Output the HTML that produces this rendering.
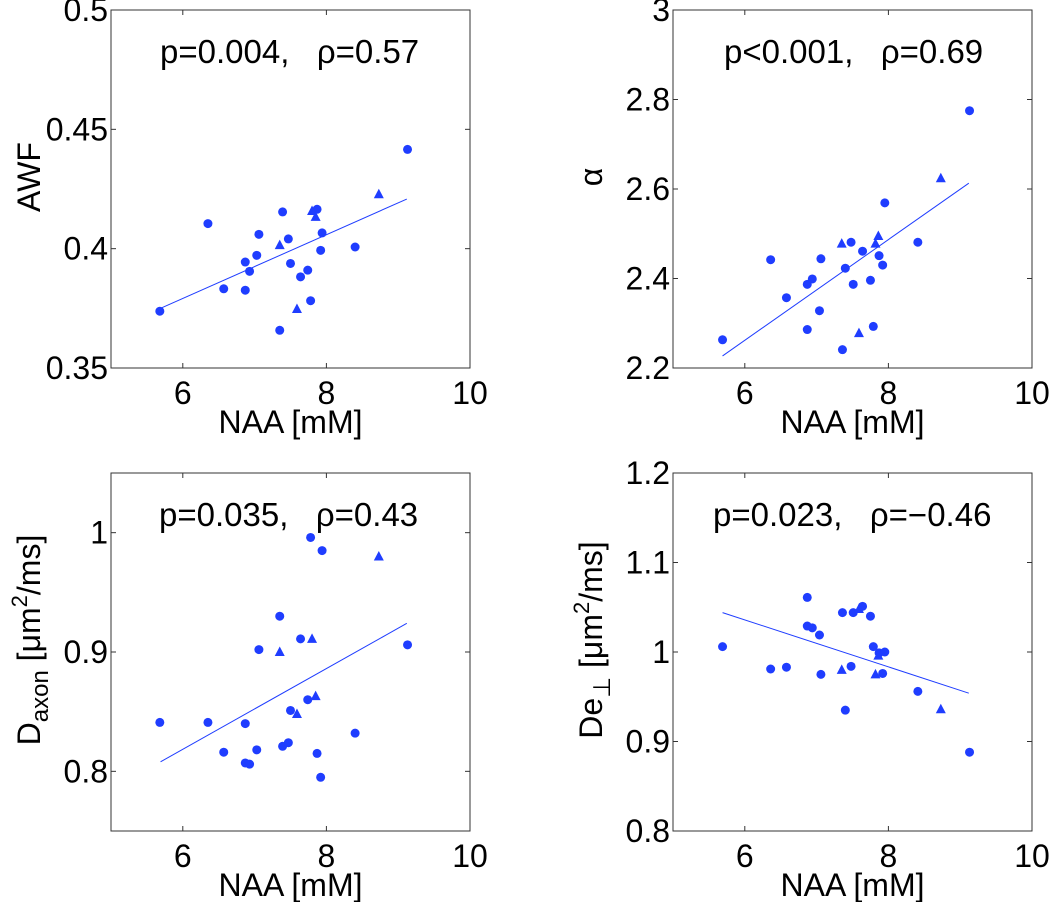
<!DOCTYPE html>
<html><head><meta charset="utf-8"><style>
html,body{margin:0;padding:0;background:#fff;}
svg{display:block;font-family:"Liberation Sans",Arial,sans-serif;}
</style></head><body>
<svg id="fig" width="1050" height="902" viewBox="0 0 1050 902" xmlns="http://www.w3.org/2000/svg"></svg>
<script>
// Shared NAA x values (circles then triangles)
const naaCircle = [5.68,6.35,6.57,6.87,6.87,6.93,7.03,7.06,7.39,7.35,7.47,7.50,7.64,7.74,7.78,7.87,7.94,7.92,8.40,9.13];
const naaTri = [7.35,7.59,7.80,7.85,8.73];
const naaTri2 = [7.35,7.59,7.82,7.86,8.73];

const awfCircle = [0.3738,0.4105,0.3832,0.3944,0.3826,0.3905,0.3972,0.406,0.4154,0.3658,0.4041,0.3938,0.3882,0.391,0.3782,0.4165,0.4066,0.3993,0.4007,0.4416];
const awfTri = [0.4015,0.3747,0.4158,0.4133,0.4228];
const awfFit = [0.375,0.4208];

const alphaX = [5.69,6.36,6.58,6.87,6.94,6.87,7.04,7.06,7.36,7.40,7.48,7.51,7.64,7.75,7.79,7.87,7.92,7.95,8.41,9.13];
const alphaCircle = [2.263,2.442,2.357,2.387,2.399,2.286,2.328,2.444,2.241,2.423,2.481,2.387,2.461,2.396,2.293,2.451,2.430,2.569,2.481,2.775];
const alphaTri = [2.478,2.278,2.478,2.495,2.624];
const alphaFit = [2.227,2.613];

const daxCircle = [0.841,0.841,0.816,0.840,0.807,0.806,0.818,0.902,0.930,0.821,0.824,0.851,0.911,0.860,0.996,0.815,0.985,0.795,0.832,0.906];
const daxX = [5.68,6.35,6.57,6.87,6.87,6.93,7.03,7.06,7.35,7.39,7.47,7.50,7.64,7.74,7.78,7.87,7.94,7.92,8.40,9.13];
const daxTri = [0.900,0.848,0.911,0.863,0.980];
const daxFit = [0.808,0.924];

const deX = [5.69,6.36,6.58,6.87,6.87,6.94,7.04,7.06,7.36,7.40,7.48,7.51,7.64,7.75,7.79,7.87,7.92,7.95,8.41,9.13];
const deCircle = [1.006,0.981,0.983,1.061,1.029,1.027,1.019,0.975,1.044,0.935,0.984,1.044,1.051,1.040,1.006,0.999,0.976,1.000,0.956,0.888];
const deTri = [0.980,1.048,0.975,0.996,0.936];
const deFit = [1.044,0.954];

const fitX = [5.69,9.12];
const xTicks = [6,8,10];

const panels = [
 {name:'awf',L:111,T:10,ymin:0.35,ymax:0.5,yTicks:[0.35,0.4,0.45,0.5],yLab:['0.35','0.4','0.45','0.5'],cx:naaCircle,cy:awfCircle,tx:naaTri,ty:awfTri,fit:awfFit,ann:'p=0.004,   ρ=0.57',annX:160,title:'AWF'},
 {name:'alpha',L:673,T:10,ymin:2.2,ymax:3.0,yTicks:[2.2,2.4,2.6,2.8,3.0],yLab:['2.2','2.4','2.6','2.8','3'],cx:alphaX,cy:alphaCircle,tx:naaTri2,ty:alphaTri,fit:alphaFit,ann:'p<0.001,   ρ=0.69',annX:724,title:'α'},
 {name:'daxon',L:111,T:473,ymin:0.75,ymax:1.05,yTicks:[0.8,0.9,1.0],yLab:['0.8','0.9','1'],cx:daxX,cy:daxCircle,tx:naaTri,ty:daxTri,fit:daxFit,ann:'p=0.035,   ρ=0.43',annX:159,title:'daxon'},
 {name:'deperp',L:673,T:473,ymin:0.8,ymax:1.2,yTicks:[0.8,0.9,1.0,1.1,1.2],yLab:['0.8','0.9','1','1.1','1.2'],cx:deX,cy:deCircle,tx:naaTri2,ty:deTri,fit:deFit,ann:'p=0.023,   ρ=−0.46',annX:713,title:'deperp'}
];
const W=359,H=358,NS='http://www.w3.org/2000/svg';
const FS=32;
const svg=document.getElementById('fig');
function mk(tag,attrs,parent){const e=document.createElementNS(NS,tag);for(const k in attrs)e.setAttribute(k,attrs[k]);(parent||svg).appendChild(e);return e;}
const BLUE='#1f3dff';
panels.forEach(p=>{
 const g=mk('g',{});
 
 
 const xs=v=>p.L+(v-5)/5*W;
 const ys=v=>p.T+H-(v-p.ymin)/(p.ymax-p.ymin)*H;
 const box=mk('rect',{x:p.L,y:p.T,width:W,height:H,fill:'none',stroke:'#333','stroke-width':1},g);
 
 
 xTicks.forEach((t,i)=>{
  const x=xs(t);
  mk('line',{x1:x,y1:p.T+H,x2:x,y2:p.T+H-5,stroke:'#333'},g);
  mk('line',{x1:x,y1:p.T,x2:x,y2:p.T+5,stroke:'#333'},g);
  const tl=mk('text',{x:x,y:p.T+H+36,'font-size':FS,'text-anchor':'middle',fill:'#000'},g);
  tl.textContent=String(t);
  
  
 });
 p.yTicks.forEach((t,i)=>{
  const y=ys(t);
  mk('line',{x1:p.L,y1:y,x2:p.L+5,y2:y,stroke:'#333'},g);
  mk('line',{x1:p.L+W,y1:y,x2:p.L+W-5,y2:y,stroke:'#333'},g);
  const tl=mk('text',{x:p.L-3,y:y+11,'font-size':FS,'text-anchor':'end',fill:'#000'},g);
  tl.textContent=p.yLab[i];
  
  
 });
 const xt=mk('text',{x:p.L+W/2,y:p.T+H+65,'font-size':FS,'text-anchor':'middle',fill:'#000'},g);
 xt.textContent='NAA [mM]';
 
 
 const cyT=p.T+H/2-12;
 const yt=mk('text',{x:0,y:0,'font-size':FS,'text-anchor':'middle',fill:'#000',transform:`translate(${p.L-71},${cyT}) rotate(-90)`},g);
 
 
 if(p.title==='daxon'){
  yt.innerHTML='D<tspan font-size="24" dy="8">axon</tspan><tspan dy="-8"> [μm</tspan><tspan font-size="22" dy="-13">2</tspan><tspan dy="13">/ms]</tspan>';
 } else if(p.title==='deperp'){
  yt.innerHTML='De<tspan font-size="24" dy="8">⊥</tspan><tspan dy="-8"> [μm</tspan><tspan font-size="22" dy="-13">2</tspan><tspan dy="13">/ms]</tspan>';
 } else yt.textContent=p.title;
 const an=mk('text',{x:p.annX,y:p.T+H*0 + 53,'font-size':33,fill:'#000'},g);
 an.setAttribute('style','white-space:pre');
 an.textContent=p.ann;
 
 
 const fl=mk('line',{x1:xs(fitX[0]),y1:ys(p.fit[0]),x2:xs(fitX[1]),y2:ys(p.fit[1]),stroke:BLUE,'stroke-width':1},g);
 
 
 p.cx.forEach((xv,i)=>{
  const c=mk('circle',{cx:xs(xv),cy:ys(p.cy[i]),r:4.5,fill:BLUE},g);
  
  
 });
 p.tx.forEach((xv,i)=>{
  const x=xs(xv),y=ys(p.ty[i]);
  const t=mk('polygon',{points:`${x},${y-5.5} ${x+5},${y+4} ${x-5},${y+4}`,fill:BLUE},g);
  
  
 });
});
</script>
</body></html>
